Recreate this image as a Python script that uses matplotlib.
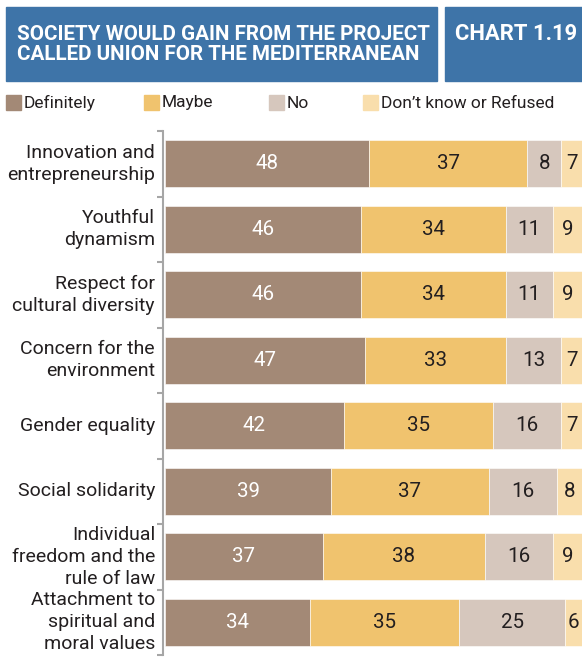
import matplotlib
matplotlib.use("Agg")
import matplotlib.pyplot as plt
from matplotlib.patches import Rectangle
from matplotlib import font_manager

categories = [
    "Innovation and\nentrepreneurship",
    "Youthful\ndynamism",
    "Respect for\ncultural diversity",
    "Concern for the\nenvironment",
    "Gender equality",
    "Social solidarity",
    "Individual\nfreedom and the\nrule of law",
    "Attachment to\nspiritual and\nmoral values",
]
definitely = [48, 46, 46, 47, 42, 39, 37, 34]
maybe = [37, 34, 34, 33, 35, 37, 38, 35]
no = [8, 11, 11, 13, 16, 16, 16, 25]
dont_know = [7, 9, 9, 7, 7, 8, 9, 6]
series_names = ["Definitely", "Maybe", "No", "Don\u2019t know or Refused"]
colors = ["#A38976", "#F0C36E", "#D6C7BD", "#F9DEAC"]
text_colors = ["white", "#231F20", "#231F20", "#231F20"]
title = "SOCIETY WOULD GAIN FROM THE PROJECT\nCALLED UNION FOR THE MEDITERRANEAN"
chart_no = "CHART 1.19"

avail = {f.name for f in font_manager.fontManager.ttflist}
FONT = "Roboto" if "Roboto" in avail else "DejaVu Sans"
plt.rcParams["font.family"] = [FONT, "DejaVu Sans"]

W, H = 582, 661
fig = plt.figure(figsize=(W / 100, H / 100), dpi=100)
renderer = fig.canvas.get_renderer()

def px(x, y):
    return x / W, 1 - y / H

def fitted_size(s, target_w, weight="normal"):
    t = fig.text(0, 0, s, fontsize=10, fontweight=weight)
    w = t.get_window_extent(renderer).width
    t.remove()
    return 10 * target_w / w

DARK = "#231F20"

# header boxes
blue = "#3E74A8"
for x0, x1 in [(6, 437), (445, 582)]:
    fig.patches.append(Rectangle(px(x0, 81), (x1 - x0) / W, 74 / H,
                                 transform=fig.transFigure, color=blue, zorder=0))

t_size = fitted_size("SOCIETY WOULD GAIN FROM THE PROJECT", 413, "bold")
lines = title.split("\n")
fig.text(*px(17, 34), lines[0], fontsize=t_size, color="white",
         fontweight="bold", ha="left", va="center")
fig.text(*px(17, 55), lines[1], fontsize=t_size, color="white",
         fontweight="bold", ha="left", va="center")
c_size = fitted_size(chart_no, 122, "bold")
fig.text(*px(455, 34), chart_no, fontsize=c_size, color="white",
         fontweight="bold", ha="left", va="center")

# legend
leg_sq = [6, 144, 269, 363]
l_size = fitted_size(series_names[3], 174)
for i, name in enumerate(series_names):
    fig.patches.append(Rectangle(px(leg_sq[i], 110), 15 / W, 15 / H,
                                 transform=fig.transFigure, color=colors[i]))
    fig.text(*px(leg_sq[i] + 18, 103), name, fontsize=l_size, color=DARK,
             ha="left", va="center")

# axes
left, right = 163, 582
top, bottom = 131, 655
ax = fig.add_axes([left / W, 1 - bottom / H, (right - left) / W, (bottom - top) / H])
scale = 4.26  # px per unit
x_min = -(165 - 163) / scale
x_max = (582 - 165) / scale
ax.set_xlim(x_min, x_max)
n = len(categories)
ax.set_ylim(n, 0)

n_size = fitted_size("48", 23)
series = [definitely, maybe, no, dont_know]
ypos = [i + 0.5 for i in range(n)]
lefts = [0] * n
for s_i, vals in enumerate(series):
    ax.barh(ypos, vals, left=lefts, height=0.72, color=colors[s_i],
            edgecolor="white", linewidth=0.4)
    for i, v in enumerate(vals):
        a = lefts[i]
        b = min(a + v, x_max)
        ax.text((a + b) / 2, ypos[i], str(v), ha="center", va="center",
                fontsize=n_size, color=text_colors[s_i])
    lefts = [l + v for l, v in zip(lefts, vals)]

for sp in ["top", "right", "bottom"]:
    ax.spines[sp].set_visible(False)
ax.spines["left"].set_color("#A6A6A6")
ax.spines["left"].set_linewidth(1.5)
ax.set_xticks([])
ax.set_yticks(range(n + 1))
ax.set_yticklabels([])
ax.tick_params(axis="y", length=4, width=1.5, color="#A6A6A6", direction="out")

cat_size = fitted_size("entrepreneurship", 148)
for i, c in enumerate(categories):
    ax.text(x_min - 8 / scale, ypos[i], c, ha="right", va="center",
            fontsize=cat_size, color=DARK, linespacing=1.3,
            transform=ax.transData, clip_on=False)

fig.savefig("out.png", dpi=100)
